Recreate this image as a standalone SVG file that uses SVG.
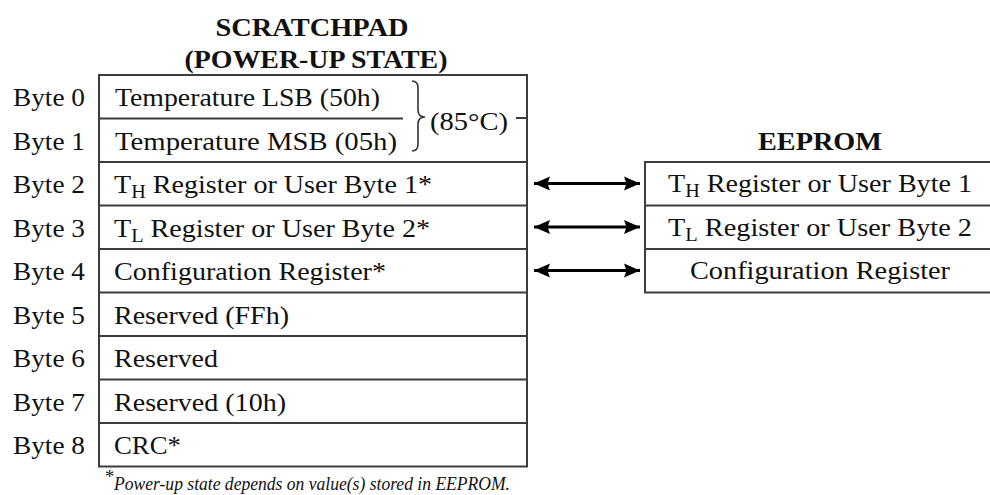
<svg xmlns="http://www.w3.org/2000/svg" width="990" height="495" viewBox="0 0 990 495">
<style>
  .t { font-family: "Liberation Serif", "Times New Roman", serif; font-size: 25px; fill: #111; }
  .b { font-weight: bold; }
  .box { fill: none; stroke: #3c3c3c; stroke-width: 2; }
  .ln { stroke: #3c3c3c; stroke-width: 2; }
  .arr { stroke: #000; stroke-width: 2.8; fill: none; marker-start: url(#ah); marker-end: url(#ah); }
  .fn { font-family: "Liberation Serif", "Times New Roman", serif; font-style: italic; font-size: 19px; fill: #111; }
</style>
<defs>
  <marker id="ah" markerUnits="userSpaceOnUse" markerWidth="17" markerHeight="16" refX="16" refY="8" orient="auto-start-reverse">
    <path d="M0,1 L16,8 L0,15 L2.5,8 z" fill="#000"/>
  </marker>
</defs>
<rect width="990" height="495" fill="#fff"/>

<g id="titles">
  <text class="t b" x="312" y="36" text-anchor="middle" textLength="193" lengthAdjust="spacingAndGlyphs">SCRATCHPAD</text>
  <text class="t b" x="316" y="68" text-anchor="middle" textLength="263" lengthAdjust="spacingAndGlyphs">(POWER-UP STATE)</text>
  <text class="t b" x="820" y="150" text-anchor="middle" textLength="124" lengthAdjust="spacingAndGlyphs">EEPROM</text>
</g>

<g id="byte-labels">
  <text class="t" x="13" y="106" textLength="72" lengthAdjust="spacingAndGlyphs">Byte 0</text>
  <text class="t" x="13" y="149.5" textLength="72" lengthAdjust="spacingAndGlyphs">Byte 1</text>
  <text class="t" x="13" y="193" textLength="72" lengthAdjust="spacingAndGlyphs">Byte 2</text>
  <text class="t" x="13" y="236.5" textLength="72" lengthAdjust="spacingAndGlyphs">Byte 3</text>
  <text class="t" x="13" y="280" textLength="72" lengthAdjust="spacingAndGlyphs">Byte 4</text>
  <text class="t" x="13" y="323.5" textLength="72" lengthAdjust="spacingAndGlyphs">Byte 5</text>
  <text class="t" x="13" y="367" textLength="72" lengthAdjust="spacingAndGlyphs">Byte 6</text>
  <text class="t" x="13" y="410.5" textLength="72" lengthAdjust="spacingAndGlyphs">Byte 7</text>
  <text class="t" x="13" y="454" textLength="72" lengthAdjust="spacingAndGlyphs">Byte 8</text>
</g>

<g id="scratchpad">
  <rect class="box" x="99" y="75" width="428" height="391.5"/>
  <line class="ln" x1="99" y1="118.5" x2="403" y2="118.5"/>
  <line class="ln" x1="99" y1="162" x2="527" y2="162"/>
  <line class="ln" x1="99" y1="205.5" x2="527" y2="205.5"/>
  <line class="ln" x1="99" y1="249" x2="527" y2="249"/>
  <line class="ln" x1="99" y1="292.5" x2="527" y2="292.5"/>
  <line class="ln" x1="99" y1="336" x2="527" y2="336"/>
  <line class="ln" x1="99" y1="379.5" x2="527" y2="379.5"/>
  <line class="ln" x1="99" y1="423" x2="527" y2="423"/>
  <text class="t" x="115" y="106" textLength="265" lengthAdjust="spacingAndGlyphs">Temperature LSB (50h)</text>
  <text class="t" x="115" y="149.5" textLength="282" lengthAdjust="spacingAndGlyphs">Temperature MSB (05h)</text>
  <path d="M412,81 Q418,81 418,88 L418,110 Q418,117 425,117 Q418,117 418,124 L418,144 Q418,151 412,151" fill="none" stroke="#333" stroke-width="1.6"/>
  <text class="t" x="430" y="130" textLength="78" lengthAdjust="spacingAndGlyphs">(85°C)</text>
  <line class="ln" x1="516" y1="118" x2="527" y2="118" stroke-width="1.6"/>
  <text class="t" x="114" y="193" textLength="318" lengthAdjust="spacingAndGlyphs">T<tspan font-size="18" dy="5">H</tspan><tspan dy="-5"> Register or User Byte 1*</tspan></text>
  <text class="t" x="114" y="236.5" textLength="316" lengthAdjust="spacingAndGlyphs">T<tspan font-size="18" dy="5">L</tspan><tspan dy="-5"> Register or User Byte 2*</tspan></text>
  <text class="t" x="114" y="280" textLength="272" lengthAdjust="spacingAndGlyphs">Configuration Register*</text>
  <text class="t" x="114" y="323.5" textLength="175" lengthAdjust="spacingAndGlyphs">Reserved (FFh)</text>
  <text class="t" x="114" y="367" textLength="104" lengthAdjust="spacingAndGlyphs">Reserved</text>
  <text class="t" x="114" y="410.5" textLength="172" lengthAdjust="spacingAndGlyphs">Reserved (10h)</text>
  <text class="t" x="114" y="454" textLength="67" lengthAdjust="spacingAndGlyphs">CRC*</text>
</g>

<g id="eeprom">
  <rect class="box" x="645" y="162" width="360" height="130.5"/>
  <line class="ln" x1="645" y1="205.5" x2="990" y2="205.5"/>
  <line class="ln" x1="645" y1="249" x2="990" y2="249"/>
  <text class="t" x="668" y="192" textLength="304" lengthAdjust="spacingAndGlyphs">T<tspan font-size="18" dy="5">H</tspan><tspan dy="-5"> Register or User Byte 1</tspan></text>
  <text class="t" x="668" y="235.5" textLength="304" lengthAdjust="spacingAndGlyphs">T<tspan font-size="18" dy="5">L</tspan><tspan dy="-5"> Register or User Byte 2</tspan></text>
  <text class="t" x="820" y="279" text-anchor="middle" textLength="260" lengthAdjust="spacingAndGlyphs">Configuration Register</text>
</g>

<g id="connectors">
  <line class="arr" x1="534" y1="183.5" x2="640" y2="183.5"/>
  <line class="arr" x1="534" y1="227" x2="640" y2="227"/>
  <line class="arr" x1="534" y1="270.5" x2="640" y2="270.5"/>
</g>

<g id="footnote">
  <text class="fn" x="104" y="483" font-size="16" font-style="normal" fill="#4a3a6a">*</text>
  <text class="fn" x="114" y="490" textLength="396" lengthAdjust="spacingAndGlyphs">Power-up state depends on value(s) stored in EEPROM.</text>
</g>
</svg>
